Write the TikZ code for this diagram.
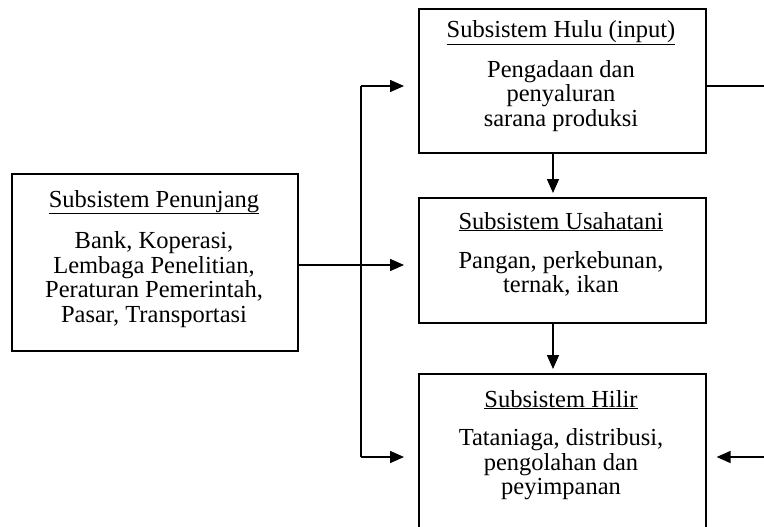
\documentclass[tikz,border=0pt]{standalone}
\usepackage{fontspec}
\setmainfont{Liberation Serif}
\usetikzlibrary{arrows.meta}
\begin{document}
\begin{tikzpicture}[x=1pt,y=-1pt,
  box/.style={draw,line width=1.6pt,rectangle,inner sep=0pt,anchor=north west},
  ttl/.style={anchor=base,inner sep=0pt,font=\fontsize{24.5}{24.8}\selectfont},
  body/.style={anchor=north,inner sep=0pt,align=center,font=\fontsize{24.5}{24.8}\selectfont},
  conn/.style={line width=1.6pt},
  arr/.style={line width=1.6pt,-{Triangle[length=14pt,width=12pt]}}]
\useasboundingbox (0,0) rectangle (764,527);
% boxes
\node[box,minimum width=286pt,minimum height=177pt] (pen) at (11,173) {};
\node[box,minimum width=287pt,minimum height=144pt] (hulu) at (418,8) {};
\node[box,minimum width=287pt,minimum height=125pt] (usa) at (418,197) {};
\node[box,minimum width=287pt,minimum height=170pt] (hil) at (418,373) {};
% texts
\node[ttl] (penT) at (154,207) {\underline{Subsistem Penunjang}};
\node[body] (penB) at (154,231) {Bank, Koperasi,\\Lembaga Penelitian,\\Peraturan Pemerintah,\\Pasar, Transportasi};
\node[ttl] (huluT) at (561,38) {\underline{Subsistem Hulu (input)}};
\node[body] (huluB) at (561,60) {Pengadaan dan\\penyaluran\\sarana produksi};
\node[ttl] (usaT) at (561,229) {\underline{Subsistem Usahatani}};
\node[body] (usaB) at (561,251) {Pangan, perkebunan,\\ternak, ikan};
\node[ttl] (hilT) at (561,407) {\underline{Subsistem Hilir}};
\node[body] (hilB) at (561,428) {Tataniaga, distribusi,\\pengolahan dan\\peyimpanan};
% connectors
\coordinate (jt) at (361,86);
\coordinate (jb) at (361,457);
\coordinate (rt) at (766,86);
\coordinate (rb) at (766,457);
\draw[conn] (jb) -- (jt);
\draw[arr,shorten >=14pt] (jt) -- (jt -| hulu.west);
\draw[arr,shorten >=14pt] (pen.east |- 0,265) -- (usa.west |- 0,265);
\draw[arr,shorten >=14pt] (jb) -- (jb -| hil.west);
\draw[conn] (hulu.east |- rt) -- (rt);
\draw[arr,shorten >=10pt] (rb) -- (rb -| hil.east);
\draw[arr,shorten >=4pt] (553,0 |- hulu.south) -- (553,0 |- usa.north);
\draw[arr,shorten >=4pt] (553,0 |- usa.south) -- (553,0 |- hil.north);
\end{tikzpicture}
\end{document}
